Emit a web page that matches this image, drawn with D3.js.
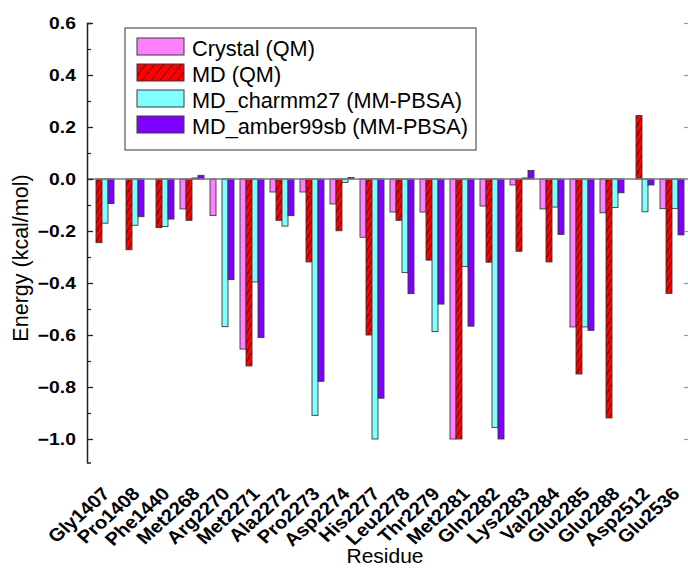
<!DOCTYPE html>
<html><head><meta charset="utf-8">
<script src="https://cdn.jsdelivr.net/npm/d3@7"></script>
<style>
html,body{margin:0;padding:0;background:#fff;}
text{font-family:"Liberation Sans",Arial,sans-serif;}
</style></head>
<body><svg id="chart" width="688" height="569"></svg>
<script>
const residues = ["Gly1407","Pro1408","Phe1440","Met2268","Arg2270","Met2271","Ala2272","Pro2273","Asp2274","His2277","Leu2278","Thr2279","Met2281","Gln2282","Lys2283","Val2284","Glu2285","Glu2288","Asp2512","Glu2536"];
const crystalQM = [0, 0, 0, -0.115, -0.14, -0.654, -0.05, -0.05, -0.096, -0.224, -0.127, -0.127, -1.0, -0.104, -0.023, -0.115, -0.569, -0.13, 0, -0.114];
const mdQM = [-0.245, -0.272, -0.187, -0.159, 0, -0.719, -0.159, -0.319, -0.199, -0.6, -0.159, -0.312, -1.0, -0.32, -0.278, -0.319, -0.75, -0.919, 0.244, -0.44];
const mdCharmm = [-0.17, -0.178, -0.183, 0.004, -0.568, -0.396, -0.181, -0.909, -0.013, -1.0, -0.36, -0.587, -0.337, -0.956, 0.004, -0.108, -0.569, -0.11, -0.126, -0.114];
const mdAmber = [-0.094, -0.145, -0.154, 0.014, -0.387, -0.61, -0.141, -0.778, 0.006, -0.843, -0.441, -0.481, -0.566, -1.0, 0.033, -0.213, -0.582, -0.053, -0.023, -0.215];
const seriesNames = ["Crystal (QM)", "MD (QM)", "MD_charmm27 (MM-PBSA)", "MD_amber99sb (MM-PBSA)"];
const seriesColors = ["#FF80FF", "#FF0000", "#80FFFF", "#8000FF"];
const yTickValues = [0.6, 0.4, 0.2, 0.0, -0.2, -0.4, -0.6, -0.8, -1.0];
const yMinorValues = [0.5, 0.3, 0.1, -0.1, -0.3, -0.5, -0.7, -0.9];
const yLabel = "Energy (kcal/mol)";
const xLabel = "Residue";

const seriesData = [crystalQM, mdQM, mdCharmm, mdAmber];
const svg = d3.select("#chart");
const defs = svg.append("defs");
const pat = defs.append("pattern").attr("id","hatch").attr("patternUnits","userSpaceOnUse")
  .attr("width",4.5).attr("height",6).attr("patternTransform","rotate(28)");
pat.append("rect").attr("width",4.5).attr("height",6).attr("fill",seriesColors[1]);
pat.append("line").attr("x1",0.5).attr("y1",0).attr("x2",0.5).attr("y2",6).attr("stroke","#4a0000").attr("stroke-width",0.9);
const patL = defs.append("pattern").attr("id","hatchL").attr("patternUnits","userSpaceOnUse")
  .attr("width",7).attr("height",8).attr("patternTransform","rotate(38)");
patL.append("rect").attr("width",7).attr("height",8).attr("fill",seriesColors[1]);
patL.append("line").attr("x1",0.5).attr("y1",0).attr("x2",0.5).attr("y2",8).attr("stroke","#4a0000").attr("stroke-width",0.8);
const fills = [seriesColors[0],"url(#hatch)",seriesColors[2],seriesColors[3]];

const x0 = 87, x1 = 687;
const x = d3.scaleBand().domain(residues).range([x0, x1]).paddingInner(0.2).paddingOuter(0.1);
const xs = d3.scaleBand().domain(d3.range(4)).range([0, x.bandwidth()]);
const y = d3.scaleLinear().domain([-1.09, 0.6]).range([462.4, 23]);

// bars
const gBars = svg.append("g");
residues.forEach((r, i) => {
  seriesData.forEach((arr, s) => {
    const v = arr[i];
    if (v === 0) return;
    gBars.append("rect")
      .attr("x", x(r) + xs(s))
      .attr("y", Math.min(y(v), y(0)))
      .attr("width", xs.bandwidth())
      .attr("height", Math.abs(y(v) - y(0)))
      .attr("fill", fills[s])
      .attr("stroke", "#3a3a3a").attr("stroke-width", 0.9);
  });
});

// zero line
svg.append("line").attr("x1", x0).attr("x2", 688).attr("y1", y(0)).attr("y2", y(0))
  .attr("stroke", "#7a7a7a").attr("stroke-width", 1.4);

// left axis
const axL = svg.append("g").attr("transform", `translate(${x0},0)`)
  .call(d3.axisLeft(y).tickValues(yTickValues).tickFormat(d3.format(".1f"))
    .tickSizeInner(-6).tickSizeOuter(-4).tickPadding(9.5));
axL.select(".domain").attr("stroke", "#222").attr("stroke-width", 1.5);
axL.selectAll(".tick line").attr("stroke", "#222").attr("stroke-width", 1.3);
axL.selectAll(".tick text").attr("font-family", "'Liberation Sans',Arial,sans-serif")
  .attr("font-size", 16.5).attr("font-weight", "bold").attr("fill", "#000")
  .attr("transform", "scale(1.17,1)");
const axLm = svg.append("g").attr("transform", `translate(${x0},0)`)
  .call(d3.axisLeft(y).tickValues(yMinorValues).tickFormat("").tickSizeInner(-4).tickSizeOuter(0));
axLm.select(".domain").remove();
axLm.selectAll(".tick line").attr("stroke", "#222").attr("stroke-width", 1.2);

// right axis (mostly cropped)
const axR = svg.append("g").attr("transform", `translate(690,0)`)
  .call(d3.axisRight(y).tickValues(yTickValues).tickFormat("").tickSizeInner(-6).tickSizeOuter(0));
axR.select(".domain").attr("stroke", "#999");
axR.selectAll(".tick line").attr("stroke", "#999").attr("stroke-width", 1.2);

// x tick labels
const gx = svg.append("g");
residues.forEach(r => {
  const cx = x(r) + x.bandwidth() / 2;
  gx.append("text").text(r)
    .attr("transform", `translate(${cx + 9},${495}) scale(1.12,1) rotate(-45)`)
    .attr("text-anchor", "end")
    .attr("font-size", 18).attr("font-weight", "bold").attr("fill", "#000");
});

// axis titles
svg.append("text").text(yLabel)
  .attr("transform", `translate(28,${258}) rotate(-90)`)
  .attr("text-anchor", "middle").attr("font-size", 21.5).attr("fill", "#000");
svg.append("text").text(xLabel)
  .attr("x", 385).attr("y", 563).attr("text-anchor", "middle")
  .attr("font-size", 21).attr("fill", "#000");

// legend
const lg = svg.append("g");
lg.append("rect").attr("x", 125).attr("y", 28).attr("width", 351).attr("height", 122)
  .attr("fill", "#fff").attr("stroke", "#555").attr("stroke-width", 1.2);
const legFills = [seriesColors[0],"url(#hatchL)",seriesColors[2],seriesColors[3]];
seriesNames.forEach((n, i) => {
  const base = 56 + i * 26;
  lg.append("rect").attr("x", 137).attr("y", base - 18).attr("width", 47).attr("height", 17)
    .attr("fill", legFills[i]).attr("stroke", "#3a3a3a").attr("stroke-width", 1);
  lg.append("text").text(n).attr("x", 192).attr("y", base)
    .attr("font-size", 21.7).attr("fill", "#000");
});
</script></body></html>
